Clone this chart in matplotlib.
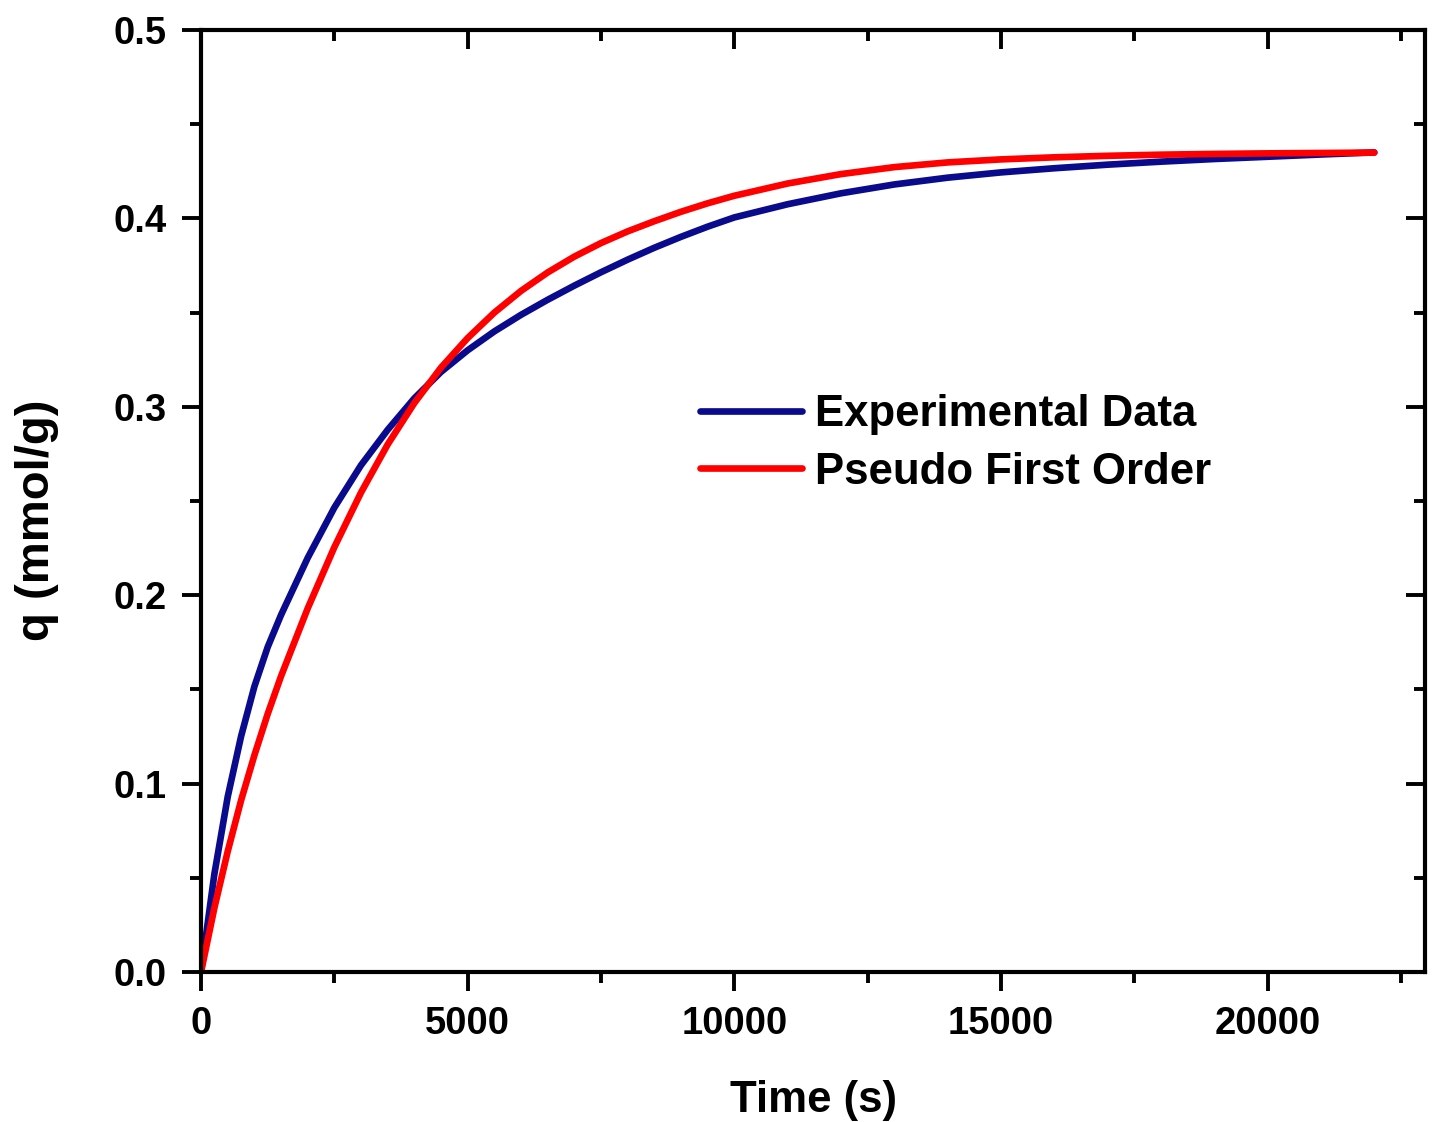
import matplotlib
matplotlib.use("Agg")
import matplotlib.pyplot as plt
from matplotlib.ticker import MultipleLocator

# Data
exp_time = [0, 250, 500, 750, 1000, 1250, 1500, 2000, 2500, 3000, 3500, 4000,
            4500, 5000, 5500, 6000, 6500, 7000, 7500, 8000, 8500, 9000, 9500,
            10000, 11000, 12000, 13000, 14000, 15000, 16000, 17000, 18000,
            19000, 20000, 21000, 22000]
exp_q = [0, 0.052, 0.093, 0.125, 0.1515, 0.1725, 0.1895, 0.2198, 0.2465, 0.2690,
         0.2878, 0.3045, 0.3185, 0.3300, 0.3400, 0.3488, 0.3568, 0.3643, 0.3714,
         0.3781, 0.3844, 0.3902, 0.3956, 0.4005, 0.4075, 0.4133, 0.4180, 0.4216,
         0.4244, 0.4266, 0.4285, 0.4301, 0.4315, 0.4327, 0.4339, 0.4350]

pfo_time = [0, 250, 500, 750, 1000, 1250, 1500, 2000, 2500, 3000, 3500, 4000,
            4500, 5000, 5500, 6000, 6500, 7000, 7500, 8000, 8500, 9000, 9500,
            10000, 11000, 12000, 13000, 14000, 15000, 16000, 17000, 18000,
            19000, 20000, 21000, 22000]
pfo_q = [0, 0.034, 0.064, 0.091, 0.115, 0.137, 0.157, 0.193, 0.2255, 0.2545,
         0.2800, 0.3020, 0.3208, 0.3365, 0.3500, 0.3615, 0.3713, 0.3797, 0.3869,
         0.3931, 0.3985, 0.4035, 0.4080, 0.4120, 0.4185, 0.4235, 0.4272, 0.4297,
         0.4313, 0.4324, 0.4332, 0.4338, 0.4342, 0.4345, 0.4347, 0.4349]

x_ticks = [0, 5000, 10000, 15000, 20000]
y_ticks = [0.0, 0.1, 0.2, 0.3, 0.4, 0.5]
series_labels = ["Experimental Data", "Pseudo First Order"]

plt.rcParams['font.family'] = ['Liberation Sans', 'DejaVu Sans']
plt.rcParams['font.weight'] = 'bold'

fig = plt.figure(figsize=(14.34, 11.22), dpi=100)
ax = fig.add_axes([0.1402, 0.1337, 0.9937 - 0.1402, 0.9733 - 0.1337])

ax.plot(exp_time, exp_q, color='#0a0a8c', lw=4.8, solid_capstyle='round',
        solid_joinstyle='round', label=series_labels[0])
ax.plot(pfo_time, pfo_q, color='#ff0000', lw=4.8, solid_capstyle='round',
        solid_joinstyle='round', label=series_labels[1])

ax.set_xlim(0, 22950)
ax.set_ylim(0, 0.5)
ax.set_xticks(x_ticks)
ax.set_xticklabels([str(v) for v in x_ticks])
ax.set_yticks(y_ticks)
ax.set_yticklabels([f"{v:.1f}" for v in y_ticks])
ax.xaxis.set_minor_locator(MultipleLocator(2500))
ax.yaxis.set_minor_locator(MultipleLocator(0.05))

for s in ax.spines.values():
    s.set_linewidth(3)

ax.tick_params(which='both', top=True, right=True, width=2.8)
ax.tick_params(axis='x', which='both', direction='out', bottom=True)
ax.tick_params(axis='y', which='both', direction='out', left=True)
ax.tick_params(which='major', length=13.5, labelsize=27.5, pad=11)
ax.tick_params(which='minor', length=8)
# top and right ticks point inward
for t in ax.xaxis.get_major_ticks() + ax.xaxis.get_minor_ticks():
    t.tick2line.set_marker(3)  # TICKDOWN
for t in ax.yaxis.get_major_ticks() + ax.yaxis.get_minor_ticks():
    t.tick2line.set_marker(0)  # TICKLEFT

for lab in ax.get_xticklabels() + ax.get_yticklabels():
    lab.set_fontweight('bold')

ax.set_xlabel("Time (s)", fontsize=31.5, fontweight='bold')
ax.set_ylabel("q (mmol/g)", fontsize=34, fontweight='bold')
ax.xaxis.set_label_coords(0.5, -0.115)
ax.xaxis.label.set_va('top')
ax.yaxis.set_label_coords(-0.116, 0.48)

leg = ax.legend(loc='upper left', bbox_to_anchor=(0.393, 0.632), frameon=False,
                fontsize=31.5, handlelength=2.35, handletextpad=0.3,
                labelspacing=0.38, borderaxespad=0)
for t in leg.get_texts():
    t.set_fontweight('bold')

fig.savefig("out.png", dpi=100, facecolor='white')
